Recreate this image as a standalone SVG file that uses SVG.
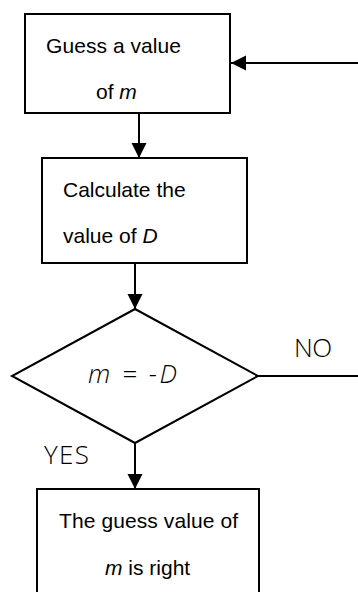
<svg xmlns="http://www.w3.org/2000/svg" width="358" height="592" viewBox="0 0 358 592">
<defs>
<style>
.box{fill:#fff;stroke:#000;stroke-width:2}
.ln{fill:none;stroke:#000;stroke-width:2}
.t{font-family:"Liberation Sans",Arial,sans-serif;font-size:21px;fill:#000}
.l{font-family:"Open Sans",sans-serif;font-weight:300;font-size:26px;fill:#000}
</style>
<marker id="ah" markerUnits="userSpaceOnUse" markerWidth="16" markerHeight="16" viewBox="0 0 16 16" refX="15" refY="8" orient="auto">
<path d="M0,0.5 L15,8 L0,15.5 Z" fill="#000"/>
</marker>
</defs>
<rect width="358" height="592" fill="#fff"/>
<g id="connectors">
<line class="ln" x1="358" y1="63" x2="231" y2="63" marker-end="url(#ah)"/>
<line class="ln" x1="139" y1="113" x2="139" y2="158" marker-end="url(#ah)"/>
<line class="ln" x1="135" y1="263" x2="135" y2="309" marker-end="url(#ah)"/>
<line class="ln" x1="258" y1="376" x2="358" y2="376"/>
<line class="ln" x1="135" y1="443" x2="135" y2="489" marker-end="url(#ah)"/>
<text class="l" x="294" y="357" textLength="38">NO</text>
<text class="l" x="44" y="464" textLength="45">YES</text>
</g>
<g id="guess">
<rect class="box" x="25" y="14" width="205" height="99"/>
<text class="t" x="46" y="53" textLength="135">Guess a value</text>
<text class="t" x="96" y="99">of <tspan font-style="italic">m</tspan></text>
</g>
<g id="calc">
<rect class="box" x="42" y="158" width="205" height="105"/>
<text class="t" x="63" y="197">Calculate the</text>
<text class="t" x="63" y="243">value of <tspan font-style="italic">D</tspan></text>
</g>
<g id="decision">
<polygon class="box" points="135,309 258,376 135,443 12,376"/>
<text class="l" x="88" y="383" font-style="italic" textLength="89">m = -D</text>
</g>
<g id="result">
<rect class="box" x="37" y="489" width="222" height="120"/>
<text class="t" x="59" y="528" textLength="179">The guess value of</text>
<text class="t" x="105" y="575"><tspan font-style="italic">m</tspan> is right</text>
</g>
</svg>
